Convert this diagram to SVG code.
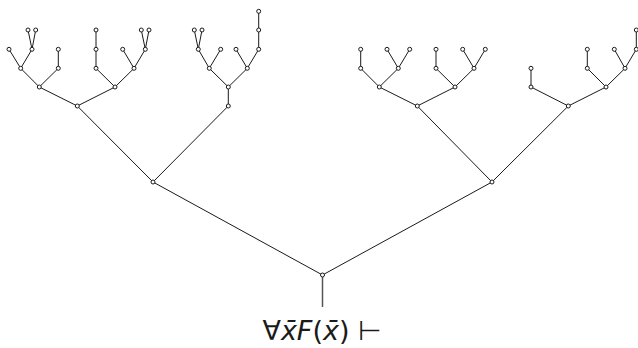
<svg xmlns="http://www.w3.org/2000/svg" width="638" height="348" viewBox="0 0 638 348">
<style>
.e{stroke:#1a1a1a;stroke-width:1;fill:none}
.n circle{fill:#fff;stroke:#1a1a1a;stroke-width:1}
.lbl{font-family:"DejaVu Sans",sans-serif;font-size:27px;fill:#1a1a1a}
</style>
<rect width="638" height="348" fill="#fff"/>
<g id="connectors">
<path class="e" d="M322.5,275 L153,182 M322.5,275 L492,182"/>
<path style="stroke:#555;stroke-width:1.5" d="M322.5,277 L322.5,307"/>
<path class="e" d="M153,182 L77.3,106 M153,182 L228.3,106"/>
<path class="e" d="M77.3,106 L39.3,87 M77.3,106 L115,87 M39.3,87 L20.7,68.3 M39.3,87 L58.3,68.3 M20.7,68.3 L9,49.3 M20.7,68.3 L32,49.3 M32,49.3 L28,30 M32,49.3 L35.7,30 M58.3,68.3 L58.3,49.3 M115,87 L96,68.3 M115,87 L134,68.3 M96,68.3 L96,30 M134,68.3 L122.7,49.3 M134,68.3 L145.3,49.3 M145.3,49.3 L141.3,30 M145.3,49.3 L149,30"/>
<path class="e" d="M228.3,106 L228.3,87 M228.3,87 L209.3,68.3 M228.3,87 L247.3,68.3 M209.3,68.3 L198.3,49.3 M209.3,68.3 L220.7,49.3 M198.3,49.3 L194.3,30 M198.3,49.3 L202,30 M247.3,68.3 L236,49.3 M247.3,68.3 L258.7,49.3 M258.7,49.3 L258.7,11.3"/>
<path class="e" d="M492,182 L417.3,106 M492,182 L568.3,106"/>
<path class="e" d="M417.3,106 L379.3,87 M417.3,106 L455,87 M379.3,87 L360.7,68.3 M379.3,87 L398.3,68.3 M360.7,68.3 L360.7,49.3 M398.3,68.3 L387,49.3 M398.3,68.3 L409.7,49.3 M455,87 L436,68.3 M455,87 L474,68.3 M436,68.3 L436,49.3 M474,68.3 L462.7,49.3 M474,68.3 L485.3,49.3"/>
<path class="e" d="M568.3,106 L531,87 M568.3,106 L606,87 M531,87 L531,68.3 M606,87 L587.3,68.3 M606,87 L625,68.3 M587.3,68.3 L587.3,49.3 M625,68.3 L614.3,49.3 M625,68.3 L636.3,49.3 M636.3,49.3 L636.3,30"/>
</g>
<g id="root" class="n"><circle cx="322.5" cy="275" r="2"/></g>
<g id="n-l" class="n"><circle cx="153" cy="182" r="2"/></g>
<g id="n-r" class="n"><circle cx="492" cy="182" r="2"/></g>
<g id="n-ll" class="n">
<circle cx="77.3" cy="106" r="2"/><circle cx="39.3" cy="87" r="2"/><circle cx="115" cy="87" r="2"/>
<circle cx="20.7" cy="68.3" r="2"/><circle cx="58.3" cy="68.3" r="2"/><circle cx="96" cy="68.3" r="2"/><circle cx="134" cy="68.3" r="2"/>
<circle cx="9" cy="49.3" r="2"/><circle cx="32" cy="49.3" r="2"/><circle cx="58.3" cy="49.3" r="2"/><circle cx="96" cy="49.3" r="2"/><circle cx="122.7" cy="49.3" r="2"/><circle cx="145.3" cy="49.3" r="2"/>
<circle cx="28" cy="30" r="2"/><circle cx="35.7" cy="30" r="2"/><circle cx="96" cy="30" r="2"/><circle cx="141.3" cy="30" r="2"/><circle cx="149" cy="30" r="2"/>
</g>
<g id="n-lr" class="n">
<circle cx="228.3" cy="106" r="2"/><circle cx="228.3" cy="87" r="2"/>
<circle cx="209.3" cy="68.3" r="2"/><circle cx="247.3" cy="68.3" r="2"/>
<circle cx="198.3" cy="49.3" r="2"/><circle cx="220.7" cy="49.3" r="2"/><circle cx="236" cy="49.3" r="2"/><circle cx="258.7" cy="49.3" r="2"/>
<circle cx="194.3" cy="30" r="2"/><circle cx="202" cy="30" r="2"/><circle cx="258.7" cy="30" r="2"/><circle cx="258.7" cy="11.3" r="2"/>
</g>
<g id="n-rl" class="n">
<circle cx="417.3" cy="106" r="2"/><circle cx="379.3" cy="87" r="2"/><circle cx="455" cy="87" r="2"/>
<circle cx="360.7" cy="68.3" r="2"/><circle cx="398.3" cy="68.3" r="2"/><circle cx="436" cy="68.3" r="2"/><circle cx="474" cy="68.3" r="2"/>
<circle cx="360.7" cy="49.3" r="2"/><circle cx="387" cy="49.3" r="2"/><circle cx="409.7" cy="49.3" r="2"/><circle cx="436" cy="49.3" r="2"/><circle cx="462.7" cy="49.3" r="2"/><circle cx="485.3" cy="49.3" r="2"/>
</g>
<g id="n-rr" class="n">
<circle cx="568.3" cy="106" r="2"/><circle cx="531" cy="87" r="2"/><circle cx="606" cy="87" r="2"/>
<circle cx="531" cy="68.3" r="2"/><circle cx="587.3" cy="68.3" r="2"/><circle cx="625" cy="68.3" r="2"/>
<circle cx="587.3" cy="49.3" r="2"/><circle cx="614.3" cy="49.3" r="2"/><circle cx="636.3" cy="49.3" r="2"/>
<circle cx="636.3" cy="30" r="2"/>
</g>
<g id="label">
<text class="lbl" x="322" y="340" text-anchor="middle">∀<tspan font-style="italic">x̄F</tspan>(<tspan font-style="italic">x̄</tspan>) ⊢</text>
</g>
</svg>
